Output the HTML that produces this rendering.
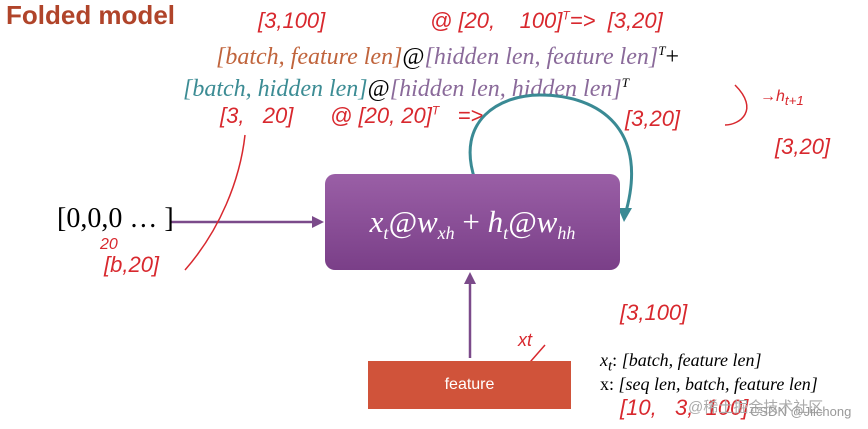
<!DOCTYPE html>
<html><head><meta charset="utf-8"><style>
body{margin:0;width:868px;height:429px;background:#fff;position:relative;overflow:hidden;font-family:"Liberation Serif",serif}
.a{position:absolute;white-space:nowrap}
.h{color:#d8282e;font-family:"Liberation Sans",sans-serif;font-style:italic;font-size:22px;font-weight:300}
i{font-style:italic}
</style></head><body>
<div class="a" style="left:6px;top:0px;font:bold 26px 'Liberation Sans',sans-serif;color:#b0442a">Folded model</div>
<div class="a h" style="left:258px;top:8px">[3,100]</div>
<div class="a h" style="left:430px;top:8px">@ [20,&nbsp;&nbsp;&nbsp;&nbsp;100]<sup style="font-size:12px">T</sup>=&gt;&nbsp;&nbsp;[3,20]</div>
<div class="a" style="left:216px;top:43px;font-size:24px"><i style="color:#c0643c">[batch, feature len]</i>@<i style="color:#8a6a9a">[hidden len, feature len]</i><sup style="font-size:13px"><i>T</i></sup>+</div>
<div class="a" style="left:183px;top:75px;font-size:24px"><i style="color:#3c8c94">[batch, hidden len]</i>@<i style="color:#8a6a9a">[hidden len, hidden len]</i><sup style="font-size:13px"><i>T</i></sup></div>
<div class="a h" style="left:220px;top:103px">[3,&nbsp;&nbsp; 20]&nbsp;&nbsp;&nbsp;&nbsp;&nbsp; @ [20, 20]<sup style="font-size:12px">T</sup>&nbsp;&nbsp;&nbsp;=&gt;</div>
<div class="a h" style="left:625px;top:106px">[3,20]</div>
<div class="a h" style="left:775px;top:134px">[3,20]</div>
<div class="a h" style="left:760px;top:88px;font-size:16px">→h<sub>t+1</sub></div>
<div class="a h" style="left:484px;top:180px;font-size:18px">20</div>
<div class="a h" style="left:100px;top:236px;font-size:16px">20</div>
<div class="a h" style="left:104px;top:252px">[b,20]</div>
<div class="a h" style="left:620px;top:300px">[3,100]</div>
<div class="a h" style="left:620px;top:395px">[10,&nbsp;&nbsp; 3,&nbsp; 100]</div>
<div class="a h" style="left:518px;top:330px;font-size:18px">xt</div>
<svg class="a" style="left:0;top:0" width="868" height="429">
<path d="M475 180 C455 120 500 95 540 95 C600 95 650 130 625 215" fill="none" stroke="#3a8a94" stroke-width="3"/>
<polygon points="618,208 632,208 624,222" fill="#3a8a94"/>
<line x1="170" y1="222" x2="315" y2="222" stroke="#7b4a8a" stroke-width="2.5"/>
<polygon points="312,216 324,222 312,228" fill="#7b4a8a"/>
<line x1="470" y1="358" x2="470" y2="282" stroke="#7b4a8a" stroke-width="2.5"/>
<polygon points="464,284 470,272 476,284" fill="#7b4a8a"/>
<path d="M245 135 C240 180 220 230 185 270" fill="none" stroke="#d8282e" stroke-width="1.5"/>
<path d="M545 345 L510 385" stroke="#d8282e" stroke-width="1.5"/>
<path d="M735 85 C760 110 740 125 725 125" fill="none" stroke="#d8282e" stroke-width="1.5"/>
</svg>
<div class="a" style="left:325px;top:174px;width:295px;height:96px;border-radius:10px;background:linear-gradient(#9a5fa6,#7a3f88);color:#fff;font-size:31px;line-height:96px;text-align:center"><i>x<sub style="font-size:18px">t</sub>@w<sub style="font-size:18px">xh</sub></i> + <i>h<sub style="font-size:18px">t</sub>@w<sub style="font-size:18px">hh</sub></i></div>
<div class="a" style="left:57px;top:203px;font-size:28px">[0,0,0 … ]</div>
<div class="a" style="left:368px;top:361px;width:203px;height:48px;background:#d0533a;color:#fff;font:16px 'Liberation Sans',sans-serif;line-height:48px;text-align:center">feature</div>
<div class="a" style="left:600px;top:350px;font-size:18px"><i>x<sub>t</sub></i>: <i>[batch, feature len]</i></div>
<div class="a" style="left:600px;top:374px;font-size:18px">x: <i>[seq len, batch, feature len]</i></div>
<div class="a" style="left:688px;top:396px;font:15px 'Liberation Sans','Noto Sans CJK SC',sans-serif;color:#aaa">@稀土掘金技术社区</div>
<div class="a" style="left:750px;top:404px;font:13px 'Liberation Sans',sans-serif;color:#999">CSDN @Jiichong</div>
</body></html>
